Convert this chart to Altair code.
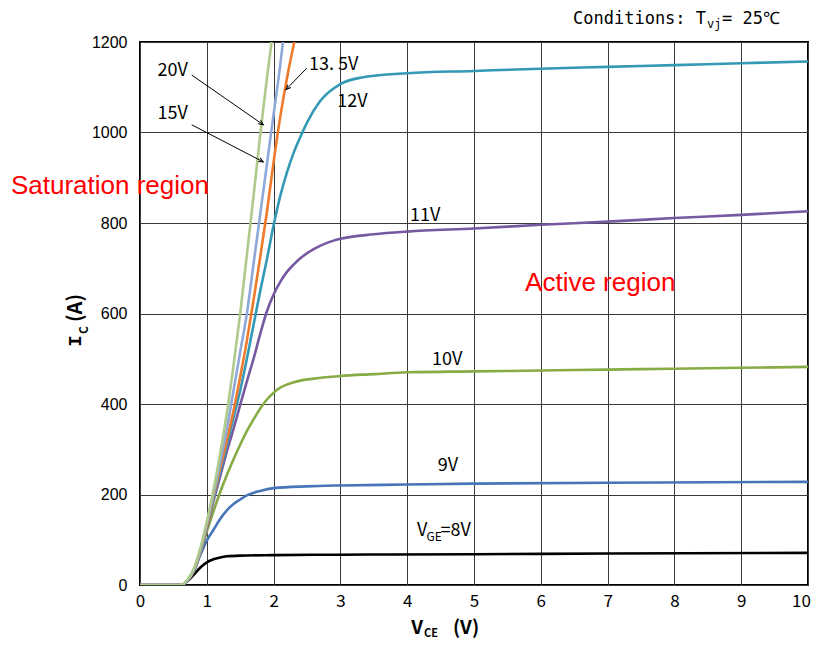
import math
import altair as alt
import pandas as pd

# ---------------- data ----------------
series_names = ["8V", "9V", "10V", "11V", "12V", "13.5V", "15V", "20V"]
series_colors = ["#000000", "#4775B8", "#87AB45", "#7659A0", "#3399B5", "#EE7A2C", "#8FA8DA", "#AECB8C"]

v8_x = [0, 0.5, 0.6, 0.65, 0.7, 0.8, 0.9, 1.0, 1.1, 1.2, 1.3, 1.5, 2.0, 3.0, 5.0, 7.0, 10.0]
v8_y = [0, 0, 0, 2, 7, 22, 38, 50, 57, 61, 63.5, 65, 66, 67, 68, 69.5, 71]

v9_x = [0, 0.5, 0.6, 0.65, 0.7, 0.8, 0.9, 1.0, 1.1, 1.2, 1.3, 1.4, 1.5, 1.6, 1.8, 2.0, 2.5, 3.0, 4.0, 5.0, 7.0, 10.0]
v9_y = [0, 0, 0, 2, 8, 28, 65, 98, 122, 146, 165, 179, 189, 198, 208, 214, 218, 220, 222, 224, 226, 228]

v10_x = [0, 0.5, 0.6, 0.65, 0.7, 0.8, 0.9, 1.0, 1.1, 1.2, 1.3, 1.4, 1.5, 1.6, 1.7, 1.8, 1.9, 2.0, 2.1, 2.2, 2.35, 2.6, 3.0, 3.5, 4.0, 5.0, 6.0, 7.0, 8.0, 9.0, 10.0]
v10_y = [0, 0, 0, 2, 8, 30, 70, 118, 163, 205, 243, 278, 310, 340, 366, 390, 410, 425, 436, 443, 450, 456, 462, 466, 470, 472, 474, 476, 478, 480, 482]

v11_x = [0, 0.5, 0.6, 0.65, 0.7, 0.8, 0.9, 1.0, 1.1, 1.2, 1.3, 1.4, 1.5, 1.6, 1.7, 1.8, 1.9, 2.0, 2.1, 2.2, 2.3, 2.4, 2.6, 2.8, 3.0, 3.5, 4.0, 5.0, 6.0, 7.0, 8.0, 9.0, 10.0]
v11_y = [0, 0, 0, 2, 8, 30, 70, 125, 185, 240, 295, 345, 398, 450, 500, 555, 605, 642, 670, 692, 708, 722, 742, 756, 765, 775, 781, 788, 796, 803, 811, 818, 826]

v12_x = [0, 0.5, 0.6, 0.65, 0.7, 0.8, 0.9, 1.0, 1.1, 1.2, 1.3, 1.4, 1.5, 1.6, 1.7, 1.8, 1.9, 2.0, 2.1, 2.2, 2.3, 2.4, 2.5, 2.7, 3.0, 3.3, 4.0, 5.0, 6.0, 7.0, 8.0, 9.0, 10.0]
v12_y = [0, 0, 0, 2, 8, 30, 72, 128, 190, 250, 310, 370, 430, 500, 575, 650, 720, 795, 860, 912, 955, 990, 1022, 1070, 1107, 1121, 1131, 1136, 1141, 1145, 1149, 1153, 1157]

v135_x = [0, 0.5, 0.6, 0.65, 0.7, 0.8, 0.9, 1.0, 1.1, 1.2, 1.3, 1.4, 1.5, 1.6, 1.7, 1.8, 1.9, 2.0, 2.1, 2.2, 2.31]
v135_y = [0, 0, 0, 2, 8, 30, 72, 130, 195, 258, 320, 385, 460, 540, 630, 725, 825, 935, 1035, 1120, 1200]

v15_x = [0, 0.5, 0.6, 0.65, 0.7, 0.8, 0.9, 1.0, 1.1, 1.2, 1.3, 1.4, 1.5, 1.6, 1.7, 1.8, 1.9, 2.0, 2.1, 2.14]
v15_y = [0, 0, 0, 2, 8, 32, 75, 135, 200, 270, 345, 430, 515, 600, 710, 820, 930, 1040, 1150, 1200]

v20_x = [0, 0.5, 0.6, 0.65, 0.7, 0.8, 0.9, 1.0, 1.1, 1.2, 1.3, 1.4, 1.5, 1.6, 1.7, 1.8, 1.9, 1.97]
v20_y = [0, 0, 0, 2, 10, 35, 80, 140, 210, 290, 380, 485, 600, 730, 860, 995, 1120, 1200]

x_ticks = [0, 1, 2, 3, 4, 5, 6, 7, 8, 9, 10]
y_ticks = [0, 200, 400, 600, 800, 1000, 1200]

# curve labels (text, V_CE, I_C)
label_text = ["20V", "15V", "13. 5V", "12V", "11V", "10V", "9V"]
label_x = [0.49, 0.49, 2.90, 3.18, 4.27, 4.60, 4.61]
label_y = [1135, 1041, 1149, 1068, 816, 497, 264]

# arrows (start V, start A, end V, end A)
arrow_x1 = [0.774, 0.774, 2.495]
arrow_y1 = [1127, 1017, 1142]
arrow_x2 = [1.846, 1.846, 2.186]
arrow_y2 = [1017, 935, 1095]

# ---------------- chart ----------------
W, H = 668, 543
XMIN, XMAX, YMIN, YMAX = 0, 10, 0, 1200
NARROW = "'Noto Sans CJK JP', 'Liberation Sans', sans-serif"
ARIAL = "'Liberation Sans', Arial, sans-serif"
MONO = "'DejaVu Sans Mono', monospace"

all_x = [v8_x, v9_x, v10_x, v11_x, v12_x, v135_x, v15_x, v20_x]
all_y = [v8_y, v9_y, v10_y, v11_y, v12_y, v135_y, v15_y, v20_y]
rows = []
for i, (name, xs, ys) in enumerate(zip(series_names, all_x, all_y)):
    for a, b in zip(xs, ys):
        rows.append({"vge": name, "vce": a, "ic": b, "k": i})
df = pd.DataFrame(rows)

xscale = alt.Scale(domain=[XMIN, XMAX], nice=False, zero=False)
yscale = alt.Scale(domain=[YMIN, YMAX], nice=False, zero=False)

lines = alt.Chart(df).mark_line(strokeWidth=2.6, clip=True, interpolate="monotone").encode(
    x=alt.X("vce:Q", scale=xscale,
            axis=alt.Axis(values=x_ticks, format="d", title=None, grid=True, ticks=False, domain=False,
                          labelFont=NARROW, labelFontSize=17, labelPadding=8,
                          labelColor="black", labelFlush=False,
                          labelOffset={"condition": {"test": "datum.value == 10", "value": -7}, "value": 0})),
    y=alt.Y("ic:Q", scale=yscale,
            axis=alt.Axis(values=y_ticks, format="d", title=None, grid=True, ticks=False, domain=False,
                          labelFont=ARIAL, labelFontSize=16,
                          labelPadding=13, labelColor="black", labelFlush=False)),
    color=alt.Color("vge:N", scale=alt.Scale(domain=series_names, range=series_colors), legend=None),
    order=alt.Order("vce:Q"),
)

lab_df = pd.DataFrame({"t": label_text, "x": label_x, "y": label_y})
labels = alt.Chart(lab_df).mark_text(font=NARROW, fontSize=18, color="black",
                                     align="center", baseline="middle").encode(
    x=alt.X("x:Q", scale=xscale), y=alt.Y("y:Q", scale=yscale), text="t:N")

# V_GE=8V label with subscript
vge_parts = alt.layer(
    alt.Chart().mark_text(font=NARROW, fontSize=18, color="black", align="left", baseline="middle", text="V")
        .encode(x=alt.datum(4.147), y=alt.datum(120)),
    alt.Chart().mark_text(font=NARROW, fontSize=12, color="black", align="left", baseline="middle", text="GE")
        .encode(x=alt.datum(4.29), y=alt.datum(107)),
    alt.Chart().mark_text(font=NARROW, fontSize=18, color="black", align="left", baseline="middle", text="=8V")
        .encode(x=alt.datum(4.50), y=alt.datum(120)),
)

# arrows
px_per_x = W / (XMAX - XMIN)
px_per_y = H / (YMAX - YMIN)
ang = []
for a1, b1, a2, b2 in zip(arrow_x1, arrow_y1, arrow_x2, arrow_y2):
    dxp = (a2 - a1) * px_per_x
    dyp = -(b2 - b1) * px_per_y
    ang.append(math.degrees(math.atan2(dyp, dxp)) % 360)
arr_df = pd.DataFrame({"x1": arrow_x1, "y1": arrow_y1, "x2": arrow_x2, "y2": arrow_y2, "ang": ang})
arrow_lines = alt.Chart(arr_df).mark_rule(color="black", strokeWidth=1).encode(
    x=alt.X("x1:Q", scale=xscale), y=alt.Y("y1:Q", scale=yscale), x2="x2:Q", y2="y2:Q")
arrow_heads = alt.Chart(arr_df).mark_point(
    shape="M -1.6 -0.7 L 0 0 L -1.6 0.7", filled=False, color="black", strokeWidth=1, size=36, opacity=1
).encode(x=alt.X("x2:Q", scale=xscale), y=alt.Y("y2:Q", scale=yscale), angle=alt.Angle("ang:Q", scale=None))

# region labels
sat = alt.Chart().mark_text(font=ARIAL, fontSize=26, color="#FF0000",
                            align="center", baseline="middle", text="Saturation region").encode(
    x=alt.datum(-0.45), y=alt.datum(882))
act = alt.Chart().mark_text(font=ARIAL, fontSize=26, color="#FF0000",
                            align="center", baseline="middle", text="Active region").encode(
    x=alt.datum(6.89), y=alt.datum(667))

# axis titles (pixel positions relative to the plot area)
def ptxt(text, px, py, size, bold=True, angle=0, font=NARROW, align="center"):
    kw = dict(font=font, fontSize=size, color="black", align=align, baseline="middle", text=text)
    if bold:
        kw["fontWeight"] = "bold"
    if angle:
        kw["angle"] = angle
    return alt.Chart().mark_text(**kw).encode(x=alt.value(px - 140), y=alt.value(py - 42))

xtitle = alt.layer(
    ptxt("V", 417, 628, 19),
    ptxt("CE", 431, 634, 11),
    ptxt("(V)", 466, 628, 19),
)
ytitle = alt.layer(
    ptxt("I", 75, 341, 19, angle=270, font="'Liberation Mono', 'DejaVu Sans Mono', monospace"),
    ptxt("C", 84, 330, 12, angle=270),
    ptxt("(A)", 76, 308, 20, angle=270),
)
cond = alt.layer(
    ptxt("Conditions: T", 573, 19, 17, bold=False, font=MONO, align="left"),
    ptxt("vj", 707, 24, 12, bold=False, font=MONO, align="left"),
    ptxt("= 25℃", 722, 19, 17, bold=False, font=MONO, align="left"),
)

chart = alt.layer(
    lines, arrow_lines, arrow_heads, labels, vge_parts, sat, act, xtitle, ytitle, cond
).properties(
    width=W, height=H,
    autosize=alt.AutoSizeParams(type="none"),
    padding={"left": 132, "top": 34, "right": 3, "bottom": 58},
    background="white",
).configure_view(
    stroke="black", strokeWidth=2
).configure_axis(
    gridColor="#3a3a3a", gridWidth=1, gridOpacity=1
)

chart.save("out.html", embed_options={"renderer": "svg", "actions": False})
